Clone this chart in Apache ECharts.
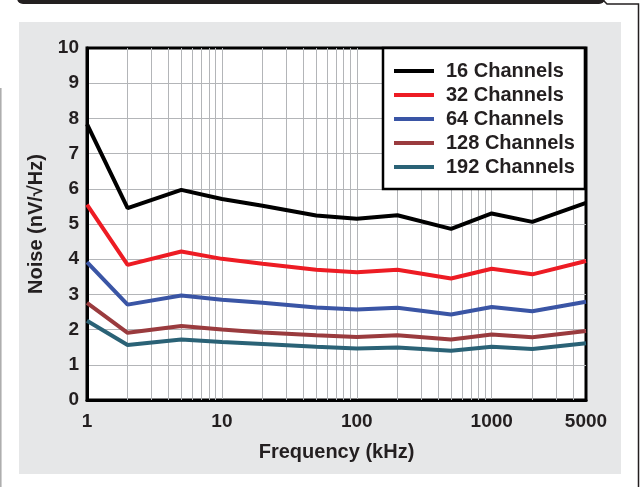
<!DOCTYPE html>
<html>
<head>
<meta charset="utf-8">
<script src="https://cdn.jsdelivr.net/npm/echarts@6/dist/echarts.min.js"></script>
<style>
  html, body { margin: 0; padding: 0; background: #fff; }
  #chart { width: 641px; height: 487px; }
</style>
</head>
<body>
<div id="chart"></div>
<script>
// frequencies (kHz) where noise was measured
const freqs = [1, 2, 5, 10, 20, 50, 100, 200, 500, 1000, 2000, 5000];

// noise density nV/rtHz per channel count
const ch16 = [7.84, 5.45, 5.97, 5.71, 5.52, 5.24, 5.15, 5.25, 4.86, 5.30, 5.06, 5.60];
const ch32 = [5.55, 3.84, 4.22, 4.01, 3.87, 3.70, 3.63, 3.70, 3.45, 3.73, 3.57, 3.95];
const ch64 = [3.92, 2.71, 2.97, 2.85, 2.76, 2.63, 2.57, 2.62, 2.43, 2.64, 2.52, 2.79];
const ch128 = [2.76, 1.91, 2.10, 2.00, 1.92, 1.84, 1.79, 1.84, 1.72, 1.86, 1.78, 1.96];
const ch192 = [2.25, 1.56, 1.72, 1.65, 1.59, 1.51, 1.46, 1.49, 1.40, 1.51, 1.45, 1.61];

const seriesNames = ['16 Channels', '32 Channels', '64 Channels', '128 Channels', '192 Channels'];
const seriesColors = ['#000000', '#ed1c24', '#3a55a5', '#9a3b3e', '#2a6276'];

// minor log grid lines (decades come from splitLine)
const minorGrid = [2, 3, 4, 5, 6, 7, 8, 9, 20, 30, 40, 50, 60, 70, 80, 90,
  200, 300, 400, 500, 600, 700, 800, 900, 2000, 3000, 4000];

const gridGray = '#b3b5b8';
const txt = '#231f20';

const pairs = (ys) => freqs.map((f, i) => [f, ys[i]]);

const lineSeries = [ch16, ch32, ch64, ch128, ch192].map((ys, i) => ({
  name: seriesNames[i],
  type: 'line',
  data: pairs(ys),
  symbol: 'none',
  z: 3,
  lineStyle: { color: seriesColors[i], width: 4 },
  itemStyle: { color: seriesColors[i] },
}));

const chart = echarts.init(document.getElementById('chart'));

const opt = {
  animation: false,
  textStyle: { fontFamily: 'Liberation Sans, Arial, sans-serif' },
  graphic: [
    // light gray panel
    { type: 'rect', z: -10, shape: { x: 19, y: 22, width: 602, height: 452 }, style: { fill: '#e6e7e8' } },
    // dark header bar
    { type: 'rect', z: -10, shape: { x: 17, y: -8, width: 588, height: 12, r: 6 }, style: { fill: txt } },
    { type: 'polyline', z: -10, shape: { points: [[603, 0], [607, 4], [638.5, 4], [638.5, 487]] }, style: { stroke: txt, lineWidth: 1.5, fill: null } },
    { type: 'line', z: -10, shape: { x1: 0.8, y1: 88, x2: 0.8, y2: 487 }, style: { stroke: '#aaaaaa', lineWidth: 1.5 } },
  ],
  grid: {
    left: 87,
    right: 55,
    top: 48,
    bottom: 87,
    show: true,
    backgroundColor: '#ffffff',
    borderColor: '#000',
    borderWidth: 3,
  },
  legend: {
    data: seriesNames,
    orient: 'vertical',
    left: 383,
    top: 48,
    backgroundColor: '#ffffff',
    borderColor: '#000',
    borderWidth: 2.5,
    borderRadius: 0,
    padding: [13, 10, 12, 11],
    itemWidth: 40,
    itemHeight: 4,
    itemGap: 4,
    icon: 'rect',
    textStyle: {
      fontSize: 20,
      fontWeight: 'bold',
      color: txt,
      lineHeight: 20,
      padding: [0, 0, 0, 7],
    },
  },
  xAxis: {
    type: 'log',
    logBase: 10,
    min: 1,
    max: 5000,
    name: 'Frequency (kHz)',
    nameLocation: 'middle',
    nameGap: 42,
    nameTextStyle: { fontSize: 20, fontWeight: 'bold', color: txt },
    axisLine: { show: true, lineStyle: { color: '#000', width: 3 } },
    axisTick: { show: false },
    axisLabel: {
      fontSize: 19,
      fontWeight: 'bold',
      color: txt,
      margin: 12,
      formatter: function (v) {
        return String(Math.round(v));
      },
    },
    splitLine: { show: true, showMinLine: false, showMaxLine: false, lineStyle: { color: gridGray, width: 1 } },
  },
  yAxis: {
    type: 'value',
    min: 0,
    max: 10,
    interval: 1,
    name: 'Noise (nV/√Hz)',
    nameLocation: 'middle',
    nameGap: 27,
    nameTextStyle: { fontSize: 20, fontWeight: 'bold', color: txt },
    axisLine: { show: true, lineStyle: { color: '#000', width: 3 } },
    axisTick: { show: false },
    axisLabel: { fontSize: 19, fontWeight: 'bold', color: txt, margin: 8 },
    splitLine: { show: true, showMinLine: false, showMaxLine: false, lineStyle: { color: gridGray, width: 1 } },
  },
  series: [
    {
      name: 'minor-grid',
      type: 'line',
      data: [],
      silent: true,
      markLine: {
        silent: true,
        z: 1,
        symbol: ['none', 'none'],
        label: { show: false },
        lineStyle: { color: gridGray, width: 1, type: 'solid' },
        data: minorGrid.map((v) => ({ xAxis: v })),
      },
    },
    ...lineSeries,
  ],
};

chart.setOption(opt);
</script>
</body>
</html>
